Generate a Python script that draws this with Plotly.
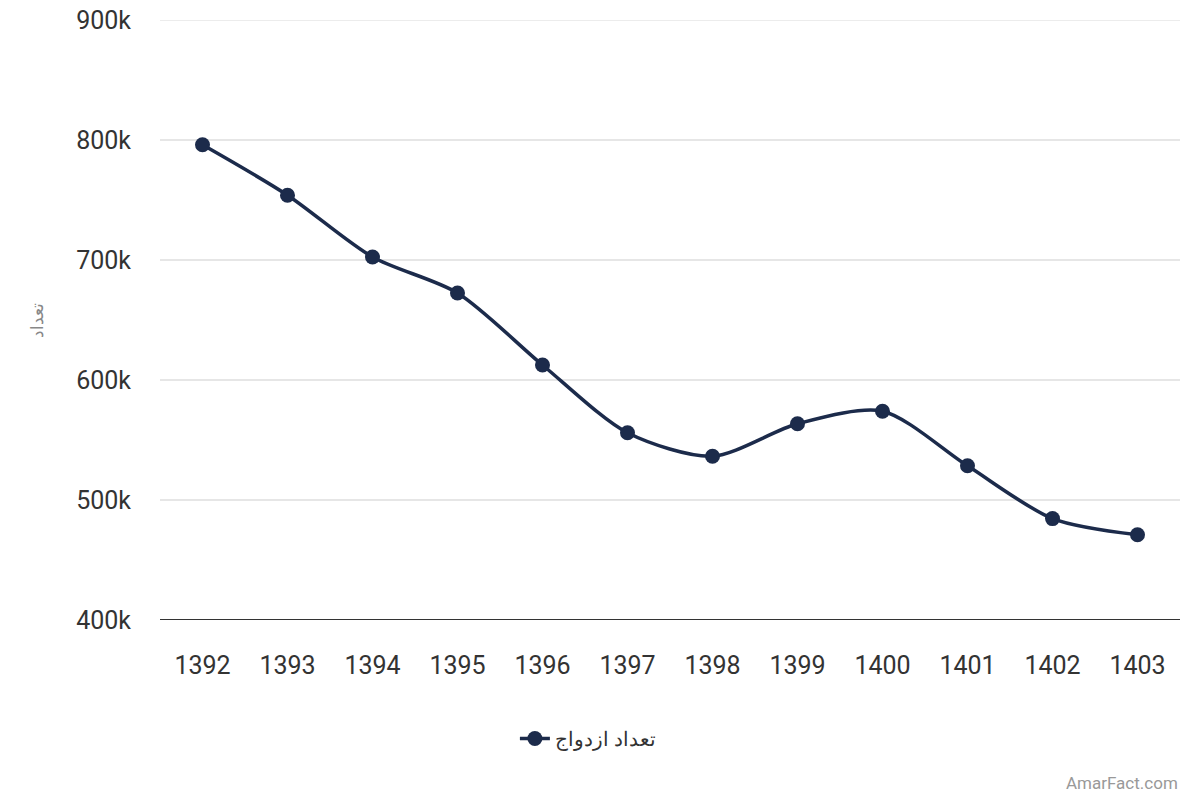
import plotly.graph_objects as go

years = ["1392", "1393", "1394", "1395", "1396", "1397",
         "1398", "1399", "1400", "1401", "1402", "1403"]
marriages = [796000, 754000, 702500, 672500, 612500, 556000,
             536500, 563500, 574000, 528500, 484500, 471000]

y_ticks = [400000, 500000, 600000, 700000, 800000, 900000]
y_labels = ["400k", "500k", "600k", "700k", "800k", "900k"]

navy = "#1c2b4b"
grid = "#e6e6e6"

fig = go.Figure()
fig.add_trace(go.Scatter(
    x=years, y=marriages, mode="lines+markers", name="تعداد ازدواج",
    line=dict(color=navy, width=3.5, shape="spline", smoothing=0.8),
    marker=dict(color=navy, size=15),
))

# page body has an 8px margin, so the margins are shifted to compensate
fig.update_layout(
    width=1200, height=800,
    margin=dict(l=152, r=28, t=12, b=188, autoexpand=False),
    paper_bgcolor="white", plot_bgcolor="white",
    font=dict(family="Roboto", color="#333333"),
    showlegend=True,
    legend=dict(orientation="h", x=0.42, xanchor="center", y=-0.165, yanchor="top",
                font=dict(family="Noto Sans", size=20, color="#333333")),
    xaxis=dict(type="category", range=[-0.5, 11.5], showgrid=False,
               tickfont=dict(size=25, color="#333333"), ticks="", ticklen=0,
               showline=False, zeroline=False, ticklabelstandoff=28,
               automargin=False),
    yaxis=dict(range=[400000, 900000], tickvals=y_ticks, ticktext=y_labels,
               tickfont=dict(size=25, color="#333333"), gridcolor=grid,
               gridwidth=1.5, showline=False, zeroline=False, ticklabelstandoff=28,
               ticklabeloverflow="allow", automargin=False,
               title=dict(text="تعداد", font=dict(family="Noto Sans", size=17, color="#888888"),
                          standoff=28)),
)

# top gridline sits on the range edge, draw it explicitly
fig.add_shape(type="line", xref="paper", yref="y", x0=0, x1=1,
              y0=y_ticks[-1], y1=y_ticks[-1], line=dict(color=grid, width=1.5),
              layer="below")
# dark baseline
fig.add_shape(type="line", xref="paper", yref="y", x0=0, x1=1,
              y0=y_ticks[0], y1=y_ticks[0], line=dict(color="#333333", width=2))

fig.add_annotation(text="AmarFact.com", xref="paper", yref="paper",
                   x=1.0, y=-0.272, xanchor="right", yanchor="middle", showarrow=False,
                   font=dict(family="Roboto", size=17, color="#999999"))

fig.write_html("out.html")
